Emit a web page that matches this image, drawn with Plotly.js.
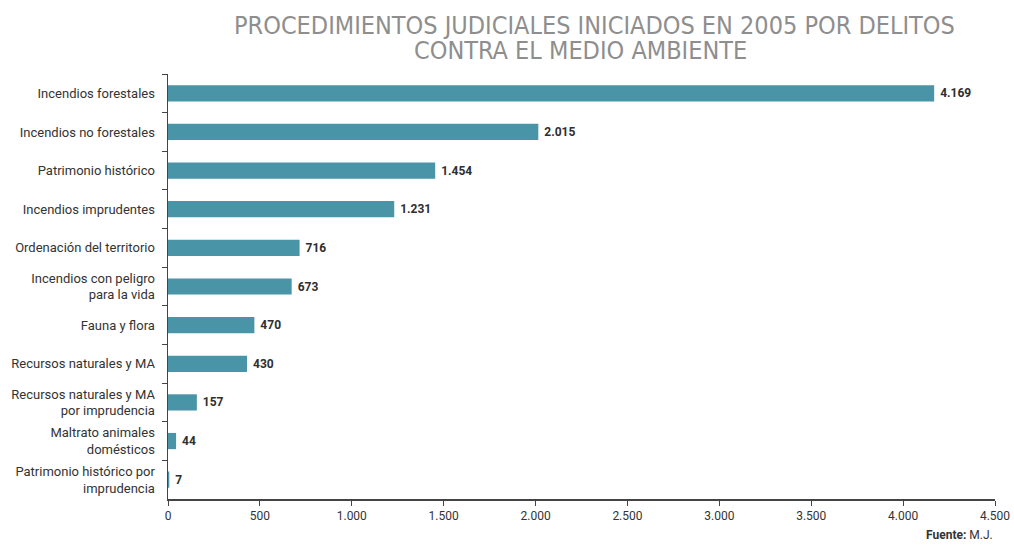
<!DOCTYPE html>
<html>
<head>
<meta charset="utf-8">
<script src="https://cdn.plot.ly/plotly-3.0.1.min.js"></script>
<style>html,body{margin:0;padding:0;background:#fff;}#chart{width:1014px;height:545px;}</style>
</head>
<body>
<div id="chart"></div>
<script>
const categories = [
  "Incendios forestales",
  "Incendios no forestales",
  "Patrimonio histórico",
  "Incendios imprudentes",
  "Ordenación del territorio",
  "Incendios con peligro<br>para la vida",
  "Fauna y flora",
  "Recursos naturales y MA",
  "Recursos naturales y MA<br>por imprudencia",
  "Maltrato animales<br>domésticos",
  "Patrimonio histórico por<br>imprudencia"
];
const values = [4169, 2015, 1454, 1231, 716, 673, 470, 430, 157, 44, 7];
const xTicks = [0, 500, 1000, 1500, 2000, 2500, 3000, 3500, 4000, 4500];
const titleLines = ["PROCEDIMIENTOS JUDICIALES INICIADOS EN 2005 POR DELITOS", "CONTRA EL MEDIO AMBIENTE"];

const trace = {
  type: 'bar',
  orientation: 'h',
  y: categories,
  x: values,
  marker: {color: '#4a94a7'},
  texttemplate: '\u00a0%{x:,}',
  textposition: 'outside',
  cliponaxis: false,
  textfont: {family: 'Roboto, sans-serif', size: 12, color: '#2e2e2e', weight: 'bold'},
  hoverinfo: 'skip'
};

const titleFont = {family: '"DejaVu Sans Condensed", "DejaVu Sans", sans-serif', size: 25, color: '#8e8e8e'};

const layout = {
  width: 1014, height: 545,
  margin: {l: 168, r: 19, t: 74, b: 46},
  paper_bgcolor: '#fff', plot_bgcolor: '#fff',
  separators: ',.',
  bargap: 0.58,
  showlegend: false,
  xaxis: {
    range: [0, 4500],
    tickvals: xTicks,
    tickformat: ',',
    showgrid: false, zeroline: false,
    showline: true, linecolor: '#444', linewidth: 1.5,
    ticks: 'outside', ticklen: 5, tickcolor: '#444', tickwidth: 1,
    tickfont: {family: 'Roboto, sans-serif', size: 12, color: '#333'},
    fixedrange: true
  },
  yaxis: {
    autorange: 'reversed',
    type: 'category',
    showgrid: false, zeroline: false,
    showline: true, linecolor: '#444', linewidth: 1.5,
    ticks: 'outside', tickson: 'boundaries', ticklen: 5, tickcolor: '#444', tickwidth: 1,
    tickfont: {family: 'Roboto, sans-serif', size: 13, color: '#333'},
    ticklabelstandoff: 9,
    fixedrange: true
  },
  annotations: [
    {
      text: titleLines[0],
      xref: 'paper', yref: 'paper',
      x: (594 - 168) / 827, xanchor: 'center',
      y: (499 - 25) / 425, yanchor: 'middle',
      showarrow: false, font: titleFont
    },
    {
      text: titleLines[1],
      xref: 'paper', yref: 'paper',
      x: (580 - 168) / 827, xanchor: 'center',
      y: (499 - 50) / 425, yanchor: 'middle',
      showarrow: false, font: titleFont
    },
    {
      text: '<b>Fuente:</b> M.J.',
      xref: 'paper', yref: 'paper',
      x: 1.0, xanchor: 'right',
      y: -(526 - 499) / 425, yanchor: 'top',
      showarrow: false,
      font: {family: 'Roboto, sans-serif', size: 12, color: '#333'}
    }
  ]
};

Plotly.newPlot('chart', [trace], layout, {displayModeBar: false, staticPlot: true});
</script>
</body>
</html>
